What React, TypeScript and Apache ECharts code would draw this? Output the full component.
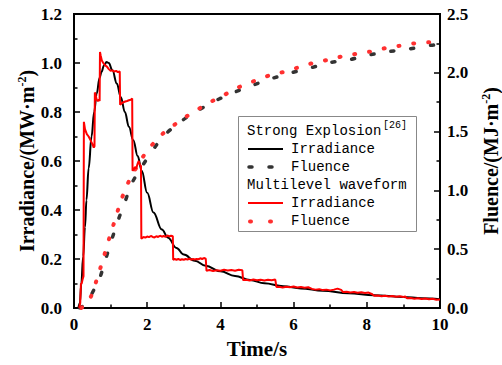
import React, { useEffect, useRef } from "react";
import * as echarts from "echarts";

// Strong Explosion irradiance (MW·m^-2) [time s, value]
const strongIrradiance: [number, number][] = [
  [0.12, 0], [0.16, 0.02], [0.2, 0.1], [0.25, 0.21], [0.3, 0.33], [0.34, 0.44],
  [0.4, 0.57], [0.48, 0.7], [0.55, 0.8], [0.62, 0.875], [0.7, 0.94], [0.75, 0.963],
  [0.82, 0.99], [0.89, 1.004], [0.95, 1.0], [1.05, 0.97], [1.17, 0.916], [1.28, 0.86],
  [1.39, 0.8], [1.5, 0.74], [1.62, 0.685], [1.74, 0.62], [1.85, 0.56], [2.0, 0.47],
  [2.17, 0.39], [2.4, 0.32], [2.57, 0.287], [2.8, 0.245], [3.0, 0.218], [3.3, 0.193],
  [3.6, 0.172], [4.0, 0.15], [4.4, 0.131], [4.81, 0.114], [5.2, 0.101], [5.72, 0.089],
  [6.2, 0.08], [6.8, 0.07], [7.5, 0.06], [8.2, 0.052], [9.0, 0.045], [9.5, 0.04], [10.0, 0.036],
];

// Strong Explosion fluence (MJ·m^-2)
const strongFluence: [number, number][] = [
  [0.15, 0], [0.3, 0.03], [0.44, 0.094], [0.6, 0.19], [0.71, 0.26], [0.85, 0.4],
  [1.03, 0.58], [1.21, 0.75], [1.39, 0.9], [1.58, 1.06], [1.85, 1.2], [2.17, 1.35],
  [2.44, 1.46], [2.89, 1.58], [3.39, 1.68], [3.85, 1.76], [4.35, 1.83], [4.85, 1.89],
  [5.39, 1.95], [5.94, 2.0], [6.44, 2.04], [6.97, 2.085], [7.51, 2.11], [8.04, 2.15],
  [8.58, 2.18], [9.12, 2.2], [9.64, 2.23], [10.0, 2.24],
];

// Multilevel waveform irradiance (MW·m^-2)
const multiIrradiance: [number, number][] = [
  [0.14, 0], [0.17, 0.02], [0.19, 0.1], [0.21, 0.1], [0.24, 0.12], [0.26, 0.13],
  [0.27, 0.76], [0.3, 0.73], [0.35, 0.71], [0.4, 0.7], [0.45, 0.685], [0.5, 0.67],
  [0.54, 0.655], [0.56, 0.66], [0.57, 0.88], [0.59, 0.87], [0.62, 0.85], [0.65, 0.845],
  [0.68, 0.85], [0.7, 0.845], [0.71, 1.045], [0.73, 1.03], [0.76, 1.01], [0.8, 1.0],
  [0.85, 0.99], [0.9, 0.985], [0.95, 0.975], [1.0, 0.968], [1.05, 0.97], [1.1, 0.965],
  [1.15, 0.968], [1.2, 0.963], [1.25, 0.965], [1.26, 0.83], [1.3, 0.835], [1.35, 0.84],
  [1.4, 0.843], [1.45, 0.845], [1.5, 0.848], [1.55, 0.85], [1.59, 0.855], [1.6, 0.56],
  [1.63, 0.565], [1.67, 0.575], [1.7, 0.57], [1.74, 0.59], [1.77, 0.6], [1.8, 0.585],
  [1.83, 0.58], [1.84, 0.283], [1.9, 0.29], [1.95, 0.287], [2.0, 0.292], [2.05, 0.289],
  [2.1, 0.294], [2.15, 0.29], [2.2, 0.288], [2.25, 0.293], [2.3, 0.29], [2.35, 0.295],
  [2.4, 0.291], [2.45, 0.294], [2.5, 0.29], [2.55, 0.296], [2.6, 0.292], [2.65, 0.295],
  [2.7, 0.293], [2.71, 0.197], [2.75, 0.2], [2.8, 0.197], [2.85, 0.2], [2.9, 0.196],
  [2.95, 0.199], [3.0, 0.197], [3.05, 0.2], [3.1, 0.198], [3.15, 0.201], [3.2, 0.197],
  [3.25, 0.2], [3.3, 0.198], [3.35, 0.2], [3.4, 0.199], [3.45, 0.203], [3.5, 0.2],
  [3.55, 0.204], [3.6, 0.201], [3.62, 0.152], [3.7, 0.155], [3.8, 0.151], [3.9, 0.154],
  [4.0, 0.152], [4.1, 0.156], [4.2, 0.153], [4.3, 0.155], [4.4, 0.152], [4.5, 0.156],
  [4.6, 0.154], [4.62, 0.114], [4.7, 0.115], [4.8, 0.112], [4.9, 0.116], [5.0, 0.113],
  [5.1, 0.115], [5.2, 0.112], [5.3, 0.115], [5.4, 0.113], [5.5, 0.116], [5.53, 0.086],
  [5.6, 0.087], [5.7, 0.084], [5.8, 0.087], [5.9, 0.085], [6.0, 0.088], [6.1, 0.084],
  [6.2, 0.086], [6.3, 0.083], [6.4, 0.085], [6.5, 0.078], [6.6, 0.075], [6.7, 0.077],
  [6.8, 0.073], [6.9, 0.075], [7.0, 0.072], [7.1, 0.075], [7.2, 0.079], [7.3, 0.074],
  [7.35, 0.065], [7.45, 0.066], [7.55, 0.063], [7.65, 0.065], [7.75, 0.062], [7.85, 0.064],
  [7.95, 0.061], [8.05, 0.063], [8.15, 0.056], [8.2, 0.05], [8.3, 0.051], [8.4, 0.048],
  [8.5, 0.05], [8.6, 0.047], [8.7, 0.049], [8.8, 0.046], [8.9, 0.048], [9.0, 0.045],
  [9.05, 0.047], [9.1, 0.04], [9.2, 0.041], [9.3, 0.038], [9.4, 0.04], [9.5, 0.037],
  [9.6, 0.039], [9.7, 0.036], [9.8, 0.038], [9.9, 0.034], [10.0, 0.035],
];

// Multilevel waveform fluence (MJ·m^-2)
const multiFluence: [number, number][] = [
  [0.2, 0], [0.35, 0.04], [0.48, 0.11], [0.62, 0.24], [0.8, 0.42], [0.98, 0.61],
  [1.12, 0.75], [1.26, 0.89], [1.39, 1.0], [1.58, 1.13], [1.76, 1.22], [1.98, 1.33],
  [2.26, 1.43], [2.49, 1.5], [2.8, 1.57], [3.08, 1.63], [3.39, 1.69], [3.72, 1.75],
  [4.03, 1.8], [4.4, 1.86], [4.72, 1.91], [5.03, 1.94], [5.44, 1.99], [5.77, 2.01],
  [6.17, 2.05], [6.55, 2.085], [6.93, 2.11], [7.33, 2.14], [7.69, 2.16], [8.09, 2.18],
  [8.51, 2.21], [8.91, 2.23], [9.3, 2.25], [9.71, 2.26], [10.0, 2.27],
];

const legendHeader = "Strong Explosion";
const legendRef = "[26]";
const legendHeader2 = "Multilevel waveform";
const legendIrr = "Irradiance";
const legendFlu = "Fluence";

const SERIF = "Liberation Serif";
const MONO = "Liberation Mono";

export default function App() {
  const ref = useRef<HTMLDivElement>(null);
  useEffect(() => {
    if (!ref.current) return;
    const chart = echarts.init(ref.current, undefined, { renderer: "svg" });
    const titleRich = {
      a: { fontFamily: SERIF, fontWeight: "bold", fontSize: 20, color: "#000" },
      s: { fontFamily: SERIF, fontWeight: "bold", fontSize: 12, color: "#000", verticalAlign: "top", padding: [0, 0, 10, 0] },
    };
    const axisLabel = { fontFamily: SERIF, fontWeight: "bold", fontSize: 17, color: "#000" };
    const legendText = (x: number, y: number, text: string, size = 14) => ({
      type: "text", x, y,
      style: { text, fontFamily: MONO, fontSize: size, fill: "#000", verticalAlign: "middle", align: "left" },
      z: 100,
    });
    const tick = { show: true, inside: true, length: 6, lineStyle: { color: "#000", width: 1.5 } };
    const minor = { show: true, splitNumber: 2, length: 3.5, lineStyle: { color: "#000", width: 1.5 } };
    const option: any = {
      animation: false,
      backgroundColor: "#fff",
      grid: {
        left: 74, right: 62, top: 14, bottom: 57, show: true, borderColor: "#000", borderWidth: 2,
        backgroundColor: "transparent", containLabel: false, outerBoundsMode: "none",
      },
      xAxis: {
        type: "value", min: 0, max: 10, interval: 2,
        name: "Time/s", nameLocation: "middle", nameGap: 30, nameMoveOverlap: false,
        nameTextStyle: { fontFamily: SERIF, fontWeight: "bold", fontSize: 21, color: "#000" },
        axisLine: { show: true, lineStyle: { color: "#000", width: 2 } },
        axisTick: tick,
        minorTick: minor,
        splitLine: { show: false },
        axisLabel: { ...axisLabel, margin: 8 },
      },
      yAxis: [
        {
          type: "value", min: 0, max: 1.2, interval: 0.2, position: "left",
          name: "{a|Irradiance/(MW·m}{s|-2}{a|)}", nameLocation: "middle", nameGap: 36, nameMoveOverlap: false,
          nameTextStyle: { rich: titleRich },
          axisLine: { show: true, lineStyle: { color: "#000", width: 2 } },
          axisTick: tick,
          minorTick: minor,
          splitLine: { show: false },
          axisLabel: { ...axisLabel, margin: 12, formatter: (v: number) => v.toFixed(1) },
        },
        {
          type: "value", min: 0, max: 2.5, interval: 0.5, position: "right",
          name: "{a|Fluence/(MJ·m}{s|-2}{a|)}", nameLocation: "middle", nameGap: 40, nameMoveOverlap: false,
          nameTextStyle: { rich: titleRich },
          axisLine: { show: true, lineStyle: { color: "#000", width: 2 } },
          axisTick: tick,
          minorTick: minor,
          splitLine: { show: false },
          axisLabel: { ...axisLabel, margin: 7, formatter: (v: number) => v.toFixed(1) },
        },
      ],
      series: [
        {
          name: "SE Fluence", type: "line", yAxisIndex: 1, data: strongFluence, symbol: "none", smooth: 0.3,
          lineStyle: { color: "#333", width: 3.5, type: [3, 17], cap: "round" },
        },
        {
          name: "MW Fluence", type: "line", yAxisIndex: 1, data: multiFluence, symbol: "none", smooth: 0.3,
          lineStyle: { color: "#ff3030", width: 4, type: [1, 14], cap: "round" },
        },
        {
          name: "SE Irradiance", type: "line", yAxisIndex: 0, data: strongIrradiance, symbol: "none",
          smooth: 0.4, smoothMonotone: "x",
          lineStyle: { color: "#000", width: 2 },
        },
        {
          name: "MW Irradiance", type: "line", yAxisIndex: 0, data: multiIrradiance, symbol: "none",
          lineStyle: { color: "#ff0000", width: 2 },
        },
      ],
      graphic: [
        { type: "rect", shape: { x: 238.5, y: 116.5, width: 178, height: 115 }, style: { fill: "#fff", stroke: "#888", lineWidth: 1 }, z: 99 },
        legendText(247, 131, legendHeader),
        legendText(383, 125, legendRef, 10),
        { type: "line", shape: { x1: 248, y1: 149, x2: 283, y2: 149 }, style: { stroke: "#000", lineWidth: 2 }, z: 100 },
        legendText(291, 149, legendIrr),
        { type: "line", shape: { x1: 249, y1: 167, x2: 272, y2: 167 }, style: { stroke: "#333", lineWidth: 3.5, lineDash: [3, 17], lineCap: "round" }, z: 100 },
        legendText(291, 167, legendFlu),
        legendText(247, 185, legendHeader2),
        { type: "line", shape: { x1: 248, y1: 203, x2: 283, y2: 203 }, style: { stroke: "#ff0000", lineWidth: 2 }, z: 100 },
        legendText(291, 203, legendIrr),
        { type: "line", shape: { x1: 250, y1: 221.5, x2: 272, y2: 221.5 }, style: { stroke: "#ff3030", lineWidth: 4, lineDash: [1, 19], lineCap: "round" }, z: 100 },
        legendText(291, 221, legendFlu),
      ],
    };
    chart.setOption(option);
    return () => chart.dispose();
  }, []);
  return <div ref={ref} style={{ width: 502, height: 365, position: "absolute", left: 0, top: 0 }} />;
}
